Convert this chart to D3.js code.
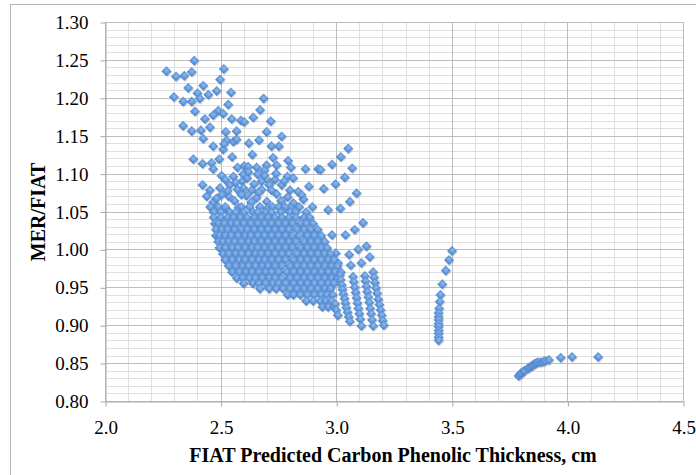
<!DOCTYPE html>
<html>
<head>
<meta charset="utf-8">
<script src="https://cdn.jsdelivr.net/npm/d3@7"></script>
<style>
  body { margin: 0; background: #fff; }
  svg { display: block; }
</style>
</head>
<body>
<div id="chart"></div>
<script>
// sparse points in the upper part of the cloud
var upperPts = [
  [2.266,1.235],[2.386,1.249],[2.307,1.228],[2.343,1.229],[2.375,1.234],[2.514,1.238],[2.498,1.224],
  [2.360,1.213],[2.425,1.216],[2.400,1.206],[2.447,1.204],[2.483,1.209],[2.298,1.201],[2.338,1.195],
  [2.375,1.195],[2.410,1.199],[2.545,1.207],[2.533,1.191],[2.389,1.182],[2.686,1.199],[2.671,1.184],
  [2.468,1.177],[2.432,1.172],[2.490,1.183],[2.511,1.179],[2.548,1.172],[2.588,1.170],[2.602,1.168],
  [2.641,1.174],[2.717,1.169],[2.338,1.163],[2.375,1.156],[2.415,1.157],[2.454,1.161],[2.522,1.155],
  [2.569,1.156],[2.699,1.155],[2.764,1.149],[2.425,1.146],[2.526,1.144],[2.555,1.142],[2.569,1.145],
  [2.622,1.140],[2.666,1.144],[2.468,1.136],[2.511,1.132],[2.515,1.139],[2.720,1.136],[2.752,1.136],
  [2.637,1.125],[2.550,1.122],[2.494,1.119],[2.382,1.119],[2.422,1.113],[2.461,1.114],[2.468,1.106],
  [2.727,1.121],[2.792,1.117],[2.804,1.108],[2.699,1.111],[2.742,1.111],[2.867,1.106],[2.922,1.106],
  [2.573,1.108],[2.602,1.110],[2.619,1.109],[2.656,1.108],[2.689,1.104],[2.504,1.097],[2.555,1.096],
  [2.598,1.099],[2.789,1.096],[2.814,1.094],[2.593,1.090],[2.677,1.090],[2.713,1.089],[2.422,1.085],
  [2.540,1.085],[2.764,1.085],[2.882,1.083],[2.454,1.078],[2.497,1.081],[2.573,1.079],[2.598,1.081],
  [2.634,1.078],[2.677,1.079],[2.710,1.085],[2.835,1.076],[2.440,1.070],[2.504,1.072],
  [3.052,1.133],[3.020,1.122],[2.982,1.112],[3.069,1.107],[2.932,1.105],[3.037,1.095],[2.997,1.086],
  [2.946,1.080],[3.088,1.074],[3.059,1.063],[3.018,1.054],[2.965,1.052],[2.897,1.056],[3.116,1.035],
  [3.080,1.026],[3.040,1.019],[2.982,1.019],[3.131,1.004],[3.095,1.000],[3.056,0.993],[2.998,0.995],
  [3.145,0.990],[3.109,0.982],[3.063,0.979],[3.008,0.982],
  [2.535,1.070],[2.612,1.071],[2.655,1.068],[2.742,1.073],[2.790,1.069],[2.468,1.062],[2.560,1.064],
  [2.700,1.063],[2.815,1.061],[2.858,1.066],
  [2.520,1.092],[2.565,1.088],[2.615,1.094],[2.645,1.086],[2.690,1.097],[2.735,1.092],[2.775,1.090],
  [2.620,1.102],[2.660,1.099],[2.740,1.100],[2.530,1.077],[2.590,1.072],[2.665,1.075],[2.720,1.078],
  [2.800,1.078],[2.850,1.072],[2.482,1.067],[2.632,1.062],[2.762,1.064],[2.800,1.055],[2.522,1.053],
  [2.578,1.055],[2.702,1.054]
];

// dense body of the cloud, row by row
var denseRows = [
  [1.056, [2.455,2.49,2.52,2.59,2.625,2.67,2.725,2.75,2.78,2.84]],
  [1.049, [2.47,2.50,2.54,2.565,2.60,2.64,2.66,2.695,2.72,2.76,2.80,2.825,2.87]],
  [1.042, [2.47,2.50,2.53,2.555,2.585,2.615,2.645,2.675,2.705,2.735,2.765,2.795,2.825,2.86,2.885]],
  [1.034, [2.475,2.49,2.515,2.545,2.57,2.60,2.63,2.66,2.69,2.72,2.75,2.78,2.81,2.845,2.87,2.90]],
  [1.026, [2.48,2.505,2.53,2.56,2.59,2.615,2.645,2.675,2.705,2.735,2.765,2.795,2.83,2.86,2.89,2.92]],
  [1.018, [2.48,2.495,2.52,2.545,2.575,2.605,2.63,2.66,2.69,2.72,2.75,2.78,2.81,2.84,2.875,2.905,2.935]],
  [1.010, [2.49,2.51,2.535,2.56,2.59,2.62,2.645,2.675,2.705,2.735,2.765,2.795,2.825,2.86,2.89,2.92,2.95]],
  [1.002, [2.495,2.52,2.55,2.575,2.605,2.635,2.66,2.69,2.72,2.75,2.78,2.81,2.845,2.875,2.905,2.935,2.96]],
  [0.994, [2.51,2.535,2.565,2.59,2.62,2.65,2.675,2.705,2.735,2.765,2.795,2.83,2.86,2.89,2.92,2.95,2.975]],
  [0.986, [2.52,2.55,2.58,2.605,2.635,2.665,2.69,2.72,2.75,2.78,2.815,2.845,2.875,2.905,2.935,2.965,2.99]],
  [0.978, [2.535,2.565,2.595,2.62,2.65,2.68,2.705,2.735,2.765,2.80,2.83,2.86,2.89,2.92,2.95,2.98,3.005]],
  [0.970, [2.55,2.58,2.61,2.635,2.665,2.695,2.72,2.75,2.785,2.815,2.845,2.875,2.905,2.935,2.965,2.995,3.02]],
  [0.962, [2.57,2.595,2.625,2.65,2.68,2.71,2.735,2.765,2.80,2.83,2.86,2.89,2.92,2.95,2.98,3.005]],
  [0.955, [2.60,2.64,2.665,2.695,2.725,2.75,2.78,2.815,2.845,2.875,2.905,2.935,2.965,2.99]],
  [0.948, [2.67,2.71,2.74,2.77,2.80,2.83,2.86,2.89,2.92,2.95,2.975]],
  [0.940, [2.79,2.815,2.845,2.875,2.905,2.935,2.96,2.985]],
  [0.932, [2.87,2.90,2.93,2.955,2.98]],
  [0.924, [2.94,2.965,2.99]]
];

// slanted columns on the right of the cloud
var columnPts = [
  [2.995,0.928],[3.000,0.920],[3.007,0.913],
  [3.016,0.966],[3.019,0.960],[3.024,0.953],[3.027,0.947],[3.031,0.941],[3.036,0.935],[3.040,0.929],
  [3.044,0.923],[3.049,0.917],[3.054,0.911],[3.059,0.905],
  [3.073,0.964],[3.076,0.957],[3.080,0.950],[3.084,0.943],[3.088,0.936],[3.092,0.929],[3.096,0.922],
  [3.100,0.915],[3.104,0.908],[3.109,0.899],
  [3.124,0.965],[3.127,0.958],[3.131,0.951],[3.134,0.944],[3.139,0.937],[3.143,0.930],[3.147,0.922],
  [3.151,0.915],[3.155,0.907],[3.160,0.899],
  [3.160,0.970],[3.164,0.963],[3.168,0.956],[3.172,0.949],[3.177,0.942],[3.182,0.934],[3.187,0.927],
  [3.192,0.920],[3.197,0.913],[3.201,0.906],[3.206,0.900]
];

// thin vertical band near 3.45
var band345 = [
  [3.501,0.998],[3.488,0.986],[3.474,0.972],[3.459,0.954],[3.451,0.940],[3.448,0.931],[3.445,0.922],
  [3.443,0.916],[3.443,0.911],[3.443,0.907],[3.443,0.902],[3.443,0.898],[3.443,0.893],[3.443,0.889],
  [3.443,0.884],[3.443,0.880]
];

// flat tail near 3.8 - 4.1
var tail38 = [
  [3.789,0.833],[3.795,0.835],[3.800,0.837],[3.810,0.839],[3.815,0.840],[3.829,0.843],[3.835,0.844],
  [3.844,0.846],[3.850,0.847],[3.858,0.849],[3.865,0.850],[3.873,0.851],[3.885,0.851],[3.897,0.852],
  [3.905,0.853],[3.920,0.854],[3.971,0.857],[4.020,0.858],[4.133,0.858]
];

var xTitle = "FIAT Predicted Carbon Phenolic Thickness, cm";
var yTitle = "MER/FIAT";

var serif = "Liberation Serif";
var W = 696, H = 475;
var x = d3.scaleLinear().domain([2.0, 4.5]).range([105, 683]);
var y = d3.scaleLinear().domain([0.80, 1.30]).range([401, 22]);

var svg = d3.select("#chart").append("svg").attr("width", W).attr("height", H);

var defs = svg.append("defs");
var grad = defs.append("radialGradient").attr("id", "dia").attr("cx", "45%").attr("cy", "40%").attr("r", "60%");
grad.append("stop").attr("offset", "0%").attr("stop-color", "#8fbcf0");
grad.append("stop").attr("offset", "100%").attr("stop-color", "#4f87cf");

// outer chart frame
svg.append("rect").attr("x", 10.5).attr("y", 4.5).attr("width", 900).attr("height", 600)
  .attr("fill", "none").attr("stroke", "#b5b5b5");

// minor grid
var grid = svg.append("g");
grid.selectAll(".vmin").data(x.ticks(25)).enter().append("line")
  .attr("x1", function (d) { return Math.round(x(d)) + 0.5; })
  .attr("x2", function (d) { return Math.round(x(d)) + 0.5; })
  .attr("y1", y(1.30)).attr("y2", y(0.80)).attr("stroke", "#dfdfdf");
grid.selectAll(".hmin").data(y.ticks(50)).enter().append("line")
  .attr("y1", function (d) { return Math.round(y(d)) + 0.5; })
  .attr("y2", function (d) { return Math.round(y(d)) + 0.5; })
  .attr("x1", x(2.0)).attr("x2", x(4.5)).attr("stroke", "#dfdfdf");
// major grid
grid.selectAll(".vmaj").data(x.ticks(5)).enter().append("line")
  .attr("x1", function (d) { return Math.round(x(d)) + 0.5; })
  .attr("x2", function (d) { return Math.round(x(d)) + 0.5; })
  .attr("y1", y(1.30)).attr("y2", y(0.80)).attr("stroke", "#bdbdbd");
grid.selectAll(".hmaj").data(y.ticks(10)).enter().append("line")
  .attr("y1", function (d) { return Math.round(y(d)) + 0.5; })
  .attr("y2", function (d) { return Math.round(y(d)) + 0.5; })
  .attr("x1", x(2.0)).attr("x2", x(4.5)).attr("stroke", "#bdbdbd");

// axes
var yAxis = svg.append("g").attr("transform", "translate(105.5,0.5)")
  .call(d3.axisLeft(y).tickValues(y.ticks(10)).tickFormat(d3.format(".2f"))
    .tickSize(5).tickSizeOuter(0).tickPadding(12));
var xAxis = svg.append("g").attr("transform", "translate(0.5,401.5)")
  .call(d3.axisBottom(x).tickValues(x.ticks(5)).tickFormat(d3.format(".1f"))
    .tickSize(5).tickSizeOuter(0).tickPadding(14));
svg.selectAll(".domain, .tick line").attr("stroke", "#a8a8a8");
[yAxis, xAxis].forEach(function (a) {
  a.attr("font-family", serif).attr("font-size", 19);
  a.selectAll("text").attr("fill", "#000").attr("font-family", serif).attr("font-size", 19);
});

// titles
svg.append("text").attr("x", 393).attr("y", 462)
  .attr("text-anchor", "middle")
  .attr("font-family", serif).attr("font-size", 20).attr("font-weight", "bold")
  .text(xTitle);
svg.append("text")
  .attr("transform", "translate(45,212) rotate(-90)")
  .attr("text-anchor", "middle")
  .attr("font-family", serif).attr("font-size", 20).attr("font-weight", "bold")
  .text(yTitle);

// collect all points
var points = upperPts.slice();
denseRows.forEach(function (r) {
  r[1].forEach(function (v) { points.push([v, r[0]]); });
});
points = points.concat(columnPts, band345, tail38);

var sym = d3.symbol().type(d3.symbolSquare).size(46);
var marks = svg.append("g");
marks.selectAll(".shadow").data(points).enter().append("path")
  .attr("d", sym)
  .attr("transform", function (d) { return "translate(" + (x(d[0]) + 0.8) + "," + (y(d[1]) + 1.3) + ") rotate(45)"; })
  .attr("fill", "#8a8a8a").attr("opacity", 0.35);
marks.selectAll(".pt").data(points).enter().append("path")
  .attr("d", sym)
  .attr("transform", function (d) { return "translate(" + x(d[0]) + "," + y(d[1]) + ") rotate(45)"; })
  .attr("fill", "url(#dia)")
  .attr("stroke", "#5a8fd2").attr("stroke-width", 0.4);
</script>
</body>
</html>
